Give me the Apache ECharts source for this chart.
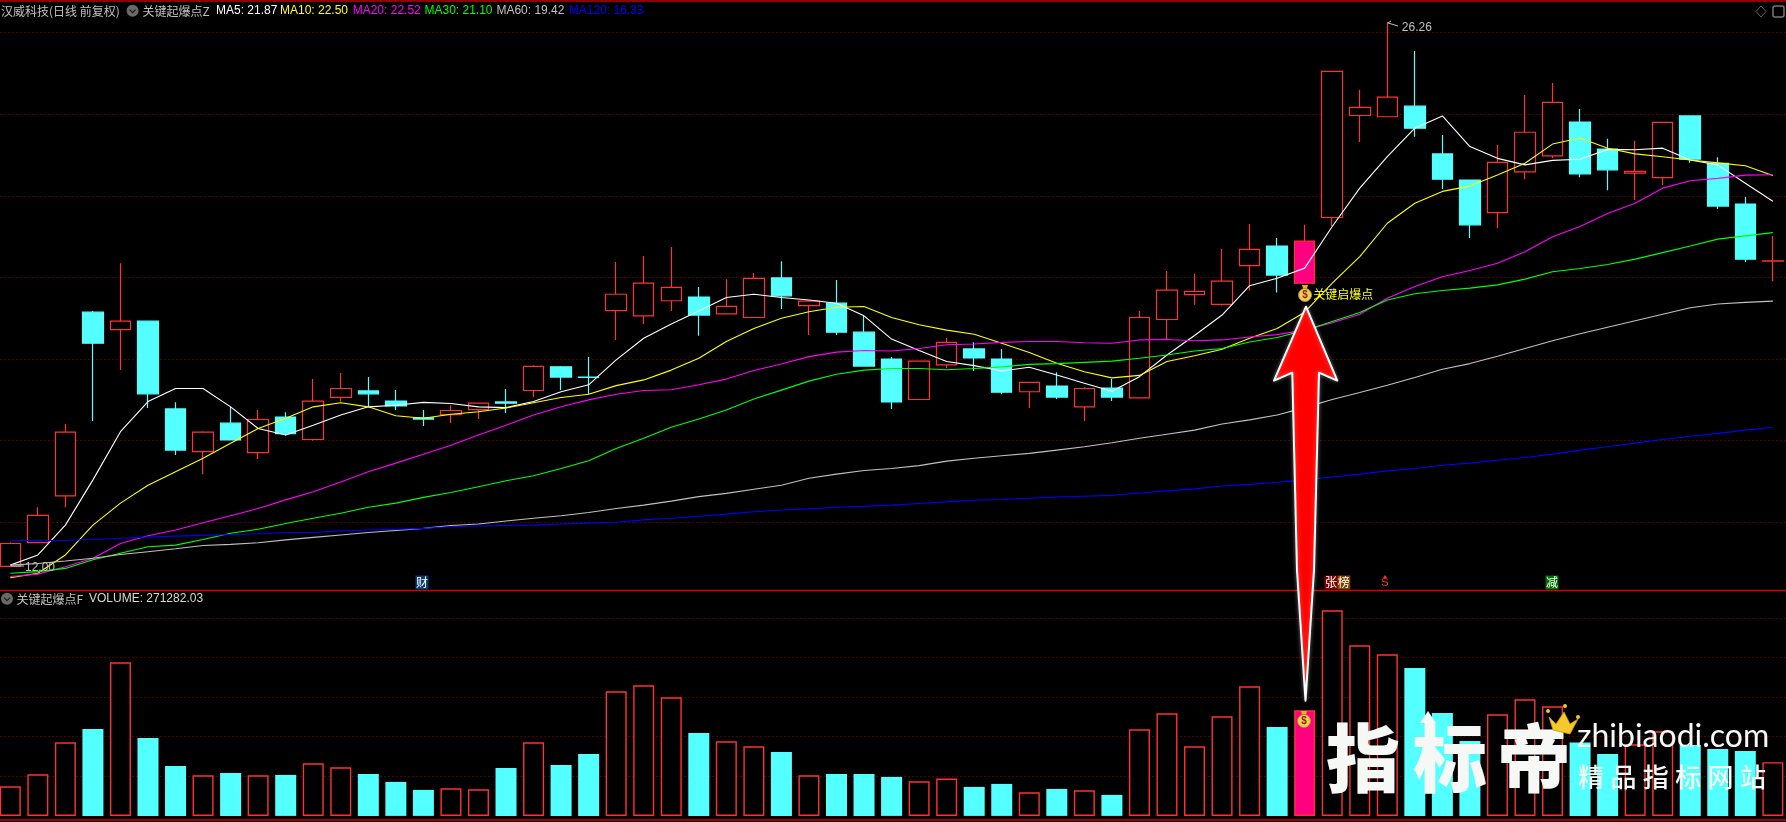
<!DOCTYPE html>
<html><head><meta charset="utf-8">
<style>html,body{margin:0;padding:0;background:#000}#c{width:1786px;height:822px}</style>
<script src="https://cdn.jsdelivr.net/npm/echarts@6/dist/echarts.min.js"></script>
</head><body><div id="c"></div>
<script>
const opens=[12.92,13.50,14.65,19.15,18.72,18.93,16.78,15.73,16.43,15.71,16.58,16.03,17.06,17.22,16.97,16.56,16.64,16.76,16.95,17.23,17.81,17.56,19.19,19.06,19.43,19.52,19.11,19.02,19.99,19.31,19.37,18.66,18.00,17.01,17.86,18.25,18.00,17.20,17.34,16.83,17.29,17.05,18.97,19.58,19.34,20.29,20.77,19.86,21.47,23.97,23.94,24.20,23.03,22.39,21.59,22.59,22.98,23.81,23.15,22.56,22.45,23.96,22.80,21.80,20.40];
const closes=[13.48,14.17,16.21,18.39,18.93,17.15,15.77,16.21,16.02,16.52,16.17,16.97,17.28,17.15,16.85,16.53,16.74,16.92,16.92,17.82,17.56,17.55,19.59,19.86,19.76,19.08,19.29,19.98,19.55,19.42,18.66,17.83,16.95,17.95,18.41,18.03,17.19,17.43,17.07,17.28,17.07,19.02,19.69,19.66,19.91,20.69,20.06,20.89,25.05,24.17,24.42,23.66,22.41,21.29,22.82,23.56,24.29,22.54,22.64,22.60,23.80,22.90,21.75,20.45,20.41];
const lows=[12.90,13.50,14.37,16.48,17.73,16.80,15.65,15.18,16.02,15.55,16.13,16.00,16.96,16.83,16.75,16.36,16.43,16.53,16.68,17.07,17.24,17.14,18.47,18.86,19.18,18.57,19.11,19.02,19.23,18.59,18.59,17.83,16.78,17.01,17.78,17.71,17.14,16.80,17.02,16.48,16.97,17.05,18.48,19.33,19.31,19.68,19.63,19.86,21.26,23.32,23.94,23.45,22.17,20.97,21.21,22.41,22.93,22.46,22.14,21.90,22.27,22.81,21.68,20.38,19.91];
const highs=[13.51,14.37,16.41,19.18,20.35,18.93,16.94,16.23,16.83,16.75,16.70,17.51,17.66,17.56,17.24,16.75,16.87,16.92,17.27,17.85,17.83,18.05,20.38,20.53,20.75,19.77,19.96,20.11,20.40,19.42,19.94,19.06,18.05,17.95,18.52,18.41,18.25,17.43,17.68,17.31,17.51,19.18,20.16,20.09,20.70,21.31,20.97,21.29,25.05,24.60,26.26,25.55,23.49,22.39,23.25,24.47,24.77,24.13,23.40,23.35,23.80,23.96,22.95,21.97,21.02];
const ma5=[12.95,13.20,13.93,15.04,16.22,16.96,17.28,17.28,16.83,16.30,16.14,16.38,16.63,16.83,16.87,16.94,16.91,16.83,16.81,16.96,17.20,17.37,17.98,18.51,18.86,19.18,19.51,19.59,19.51,19.45,19.37,19.06,18.49,18.21,17.94,17.84,17.71,17.80,17.61,17.41,17.21,17.57,18.10,18.58,19.08,19.80,19.98,20.23,21.25,22.19,22.96,23.66,23.96,23.21,22.92,22.76,22.87,22.90,23.14,23.13,23.17,22.88,22.76,22.31,21.87];
const ma10=[12.64,12.75,13.20,13.93,14.47,14.91,15.24,15.57,15.94,16.30,16.55,16.83,16.93,16.83,16.61,16.55,16.65,16.71,16.80,16.93,17.06,17.14,17.35,17.49,17.73,18.02,18.43,18.75,19.00,19.16,19.27,19.29,19.02,18.84,18.71,18.61,18.39,18.16,17.90,17.69,17.54,17.60,17.94,18.08,18.24,18.51,18.75,19.15,19.86,20.51,21.33,21.82,22.11,22.24,22.51,22.80,23.27,23.42,23.17,23.03,22.96,22.88,22.81,22.74,22.50];
const ma20=[12.67,12.73,12.91,13.12,13.48,13.67,13.81,13.99,14.16,14.34,14.55,14.75,14.99,15.24,15.45,15.67,15.89,16.14,16.38,16.63,16.83,17.00,17.14,17.23,17.25,17.37,17.51,17.72,17.88,18.06,18.17,18.21,18.20,18.26,18.35,18.37,18.41,18.43,18.43,18.40,18.39,18.47,18.48,18.45,18.47,18.54,18.60,18.71,18.89,19.10,19.49,19.78,20.02,20.17,20.35,20.63,21.00,21.25,21.57,21.82,22.19,22.37,22.43,22.51,22.52];
const ma30=[12.75,12.79,12.87,13.08,13.24,13.40,13.44,13.58,13.73,13.83,13.97,14.10,14.22,14.37,14.47,14.61,14.73,14.87,15.02,15.14,15.32,15.51,15.81,16.06,16.33,16.53,16.75,17.02,17.24,17.46,17.63,17.73,17.77,17.77,17.74,17.77,17.81,17.87,17.89,17.92,17.95,18.02,18.10,18.20,18.26,18.42,18.53,18.70,18.92,19.14,19.45,19.60,19.68,19.74,19.82,19.96,20.14,20.22,20.32,20.45,20.61,20.77,20.94,21.02,21.10];
const ma60=[12.95,12.99,13.05,13.12,13.21,13.28,13.35,13.43,13.46,13.50,13.57,13.63,13.69,13.75,13.80,13.85,13.92,13.96,14.03,14.10,14.16,14.24,14.34,14.42,14.52,14.63,14.71,14.81,14.91,15.08,15.18,15.27,15.32,15.39,15.50,15.57,15.63,15.69,15.77,15.85,15.95,16.06,16.16,16.26,16.41,16.51,16.63,16.81,17.01,17.18,17.36,17.55,17.75,17.89,18.07,18.26,18.45,18.62,18.78,18.94,19.10,19.26,19.35,19.39,19.42];
const ma120=[13.56,13.55,13.56,13.58,13.61,13.64,13.66,13.68,13.70,13.72,13.75,13.75,13.79,13.81,13.83,13.85,13.89,13.91,13.92,13.93,13.96,13.98,14.00,14.06,14.10,14.15,14.20,14.26,14.30,14.33,14.37,14.39,14.42,14.46,14.50,14.54,14.56,14.59,14.62,14.64,14.66,14.72,14.77,14.82,14.89,14.93,14.98,15.04,15.11,15.18,15.26,15.32,15.40,15.45,15.52,15.59,15.67,15.77,15.85,15.94,16.03,16.11,16.18,16.26,16.33];
const volumes=[149800,210400,371900,439300,775900,393800,252500,205300,217100,205300,207000,265900,245700,212100,171700,131300,139700,134600,242400,371900,257500,313000,629400,659700,599100,419100,377000,351700,323100,205300,212100,212100,196900,175000,188500,146400,161600,119500,136300,129600,106000,437600,518400,351700,503200,654700,449400,533500,1038400,861700,816300,747300,520000,378700,513300,589000,553700,370300,313000,361800,427500,358500,338300,328200,271282];
const categories=opens.map((_,i)=>String(i+1));
const signalIndex=47;
const maNames=['MA5','MA10','MA20','MA30','MA60','MA120'];
const maSeries=[ma5,ma10,ma20,ma30,ma60,ma120];
const maColors=['#ffffff','#ffff00','#ff00ff','#00ff00','#c0c0c0','#0000ff'];
const maLegend=['MA5: 21.87','MA10: 22.50','MA20: 22.52','MA30: 21.10','MA60: 19.42','MA120: 16.33'];
const maLegendX=[216,280,352.7,424.5,496.4,568.8];

const RED='#ff3232',CYAN='#54ffff',PINK='#ff0080',GRID='#a00000';
const CJK='"Noto Sans CJK SC",sans-serif',LAT='"Liberation Sans",sans-serif';
const txt=(x,y,text,fill,size,extra)=>({type:'text',x,y,z:50,silent:true,style:Object.assign({text,fill,font:`${size||12}px ${CJK}`,textVerticalAlign:'middle'},extra||{})});
const badge=(x,y,w,bg,ch)=>[{type:'rect',z:50,silent:true,shape:{x:x-w/2,y:y-7,width:w,height:14},style:{fill:bg}},txt(x,y,ch,'#fff',12,{textAlign:'center'})];
const chevron=(cx,cy)=>[{type:'circle',z:50,silent:true,shape:{cx,cy,r:6},style:{fill:'#6a6a6a'}},
 {type:'polyline',z:51,silent:true,shape:{points:[[cx-3,cy-1],[cx,cy+2],[cx+3,cy-1]]},style:{stroke:'#1c1c1c',lineWidth:1.2,fill:'none'}}];
const bag=(cx,cy)=>[
 {type:'polygon',z:60,silent:true,shape:{points:[[cx-3,cy-9],[cx+3,cy-9],[cx+1.5,cy-4],[cx-1.5,cy-4]]},style:{fill:'#e8b020'}},
 {type:'circle',z:60,silent:true,shape:{cx,cy:cy+1,r:6.5},style:{fill:'#f3cf55',stroke:'#b98a1e',lineWidth:1}},
 {type:'text',x:cx,y:cy+1,z:61,silent:true,style:{text:'$',fill:'#8a2b10',font:`bold 10px ${LAT}`,textAlign:'center',textVerticalAlign:'middle'}}];

const arrowPts=[[1306,306.7],[1337.3,380.7],[1319,372.7],[1314,570],[1305.5,700.7],[1297,570],[1292.3,372.7],[1274,380.7]];
const graphics=[
 txt(1,11,'汉威科技(日线 前复权)','#c0c0c0'),
 ...chevron(132.6,10.7),
 txt(142.4,11,'关键起爆点Z','#c0c0c0'),
 ...maLegend.map((t,i)=>txt(maLegendX[i],11,t,maColors[i],12,{font:`12px ${LAT}`})),
 ...chevron(7,598.7),
 txt(16.6,599,'关键起爆点F','#c0c0c0'),
 txt(89,599,'VOLUME: 271282.03','#d8d8d8',12,{font:`12px ${LAT}`}),
 txt(1401.8,27.5,'26.26','#c0c0c0',12,{font:`12px ${LAT}`}),
 {type:'polyline',z:50,silent:true,shape:{points:[[1398,26],[1388,23],[1391,21]]},style:{stroke:'#c0c0c0',lineWidth:1,fill:'none'}},
 txt(25,568,'12.00','#c0c0c0',12,{font:`12px ${LAT}`}),
 {type:'polyline',z:50,silent:true,shape:{points:[[24,566],[11,566],[14,563]]},style:{stroke:'#c0c0c0',lineWidth:1,fill:'none'}},
 {type:'polygon',z:50,silent:true,shape:{points:[[1761,6],[1766,11.5],[1761,17],[1756,11.5]]},style:{stroke:'#666',lineWidth:1,fill:'none'}},
 {type:'rect',z:50,silent:true,shape:{x:1773,y:6,width:11,height:11,r:2},style:{stroke:'#777',lineWidth:1.5,fill:'none'}},
 ...badge(422,582.5,13,'#0a3a6e','财'),
 ...badge(1331,582.5,13,'#800000','张'),
 ...badge(1343.8,582.5,13,'#804000','榜'),
 txt(1385,583,'S',RED,11,{font:`11px ${LAT}`,textAlign:'center'}),
 {type:'polygon',z:50,silent:true,shape:{points:[[1385,575],[1387,578],[1383,578]]},style:{fill:RED}},
 ...badge(1552,582.5,13,'#007000','减'),
 ...bag(1305,294),
 txt(1313.3,294.3,'关键启爆点','#ffff00',12),
 {type:'polygon',z:40,silent:true,shape:{points:arrowPts},style:{fill:'#ff0000',stroke:'#fff',lineWidth:2,lineJoin:'round',shadowBlur:4,shadowColor:'rgba(255,255,255,.35)'}},
 ...bag(1304,720),
 // watermark
 ...[['指',1326],['标',1413],['帝',1497]].map(([c,x])=>({type:'text',x,y:758,z:70,silent:true,style:{text:c,fill:'#f6f8f5',font:`900 74px ${CJK}`,textVerticalAlign:'middle',shadowBlur:7,shadowColor:'rgba(40,70,70,.9)',shadowOffsetX:3,shadowOffsetY:3}})),
 {type:'polygon',z:71,silent:true,shape:{points:[[1428,711],[1436,723],[1431,723],[1431,730],[1425,730],[1425,723],[1420,723]]},style:{fill:'#f6f8f5'}},
 {type:'polygon',z:72,silent:true,shape:{points:[[1549,717],[1556,724],[1564,712],[1570,724],[1578,719],[1570,734],[1553,730]]},style:{fill:'#f5c92a',stroke:'#c99a10',lineWidth:.8}},
 ...[[1548,711],[1565,706],[1578,717]].map(([cx,cy])=>({type:'circle',z:72,silent:true,shape:{cx,cy,r:2},style:{fill:'#f5c92a'}})),
 {type:'text',x:1577,y:737,z:70,silent:true,style:{text:'zhibiaodi.com',fill:'#f6f8f5',font:`32px Lato,${LAT}`,textVerticalAlign:'middle',shadowBlur:4,shadowColor:'rgba(40,70,70,.9)',shadowOffsetX:2,shadowOffsetY:2}},
 ...'精品指标网站'.split('').map((c,i)=>({type:'text',x:1578+i*32.4,y:777,z:70,silent:true,style:{text:c,fill:'#f6f8f5',font:`500 26px ${CJK}`,textVerticalAlign:'middle',shadowBlur:5,shadowColor:'rgba(40,90,90,.9)',shadowOffsetX:3,shadowOffsetY:3}})),
 // frame lines
 {type:'line',z:30,silent:true,shape:{x1:0,y1:1,x2:1786,y2:1},style:{stroke:'#c00000',lineWidth:1.5}},
 {type:'line',z:30,silent:true,shape:{x1:0,y1:590.5,x2:1786,y2:590.5},style:{stroke:'#d00000',lineWidth:1.3}},
 {type:'line',z:30,silent:true,shape:{x1:0,y1:820,x2:1786,y2:820},style:{stroke:'#d00000',lineWidth:1.3}}
];

const dotted={color:GRID,type:[1,3],width:1};
const option={
 backgroundColor:'#000',animation:false,
 grid:[{left:-3.47,width:1790.1,top:-48.9,height:652.8,outerBoundsMode:'none'},{left:-3.47,width:1790.1,top:578.3,height:237.6,outerBoundsMode:'none'}],
 xAxis:[0,1].map(g=>({type:'category',gridIndex:g,data:categories,boundaryGap:true,axisLine:{show:false},axisTick:{show:false},axisLabel:{show:false},splitLine:{show:false}})),
 yAxis:[
  {type:'value',gridIndex:0,min:12,max:28,interval:2,axisLine:{show:false},axisTick:{show:false},axisLabel:{show:false},splitLine:{show:true,showMinLine:false,showMaxLine:false,lineStyle:dotted}},
  {type:'value',gridIndex:1,min:0,max:1200000,interval:200000,axisLine:{show:false},axisTick:{show:false},axisLabel:{show:false},splitLine:{show:true,showMinLine:false,showMaxLine:false,lineStyle:dotted}}
 ],
 series:[
  {type:'candlestick',xAxisIndex:0,yAxisIndex:0,barWidth:21,z:2,
   itemStyle:{color:'#000',color0:CYAN,borderColor:RED,borderColor0:CYAN,borderWidth:1.2},
   data:opens.map((o,i)=>{const v=[o,closes[i],lows[i],highs[i]];return i===signalIndex?{value:v,itemStyle:{color:PINK}}:v;})},
  ...maNames.map((n,k)=>({type:'line',name:n,xAxisIndex:0,yAxisIndex:0,data:maSeries[k],showSymbol:false,smooth:false,z:3,lineStyle:{color:maColors[k],width:1.1}})),
  {type:'bar',xAxisIndex:1,yAxisIndex:1,barWidth:21,z:2,
   data:volumes.map((v,i)=>{const up=closes[i]>=opens[i];return {value:v,itemStyle:i===signalIndex?{color:PINK,borderColor:RED,borderWidth:1.4}:(up?{color:'#000',borderColor:RED,borderWidth:1.4}:{color:CYAN,borderWidth:0})};})}
 ],
 graphic:{elements:graphics}
};
echarts.init(document.getElementById('c'),null,{renderer:'canvas'}).setOption(option);
</script></body></html>
